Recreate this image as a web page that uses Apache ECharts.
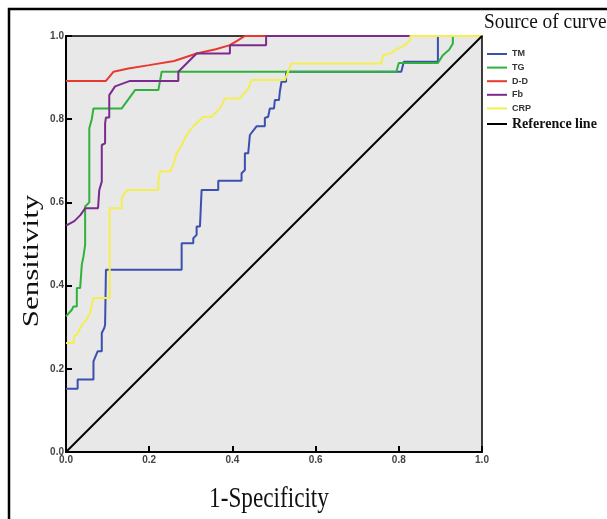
<!DOCTYPE html>
<html>
<head>
<meta charset="utf-8">
<script src="https://cdn.jsdelivr.net/npm/echarts@6/dist/echarts.min.js"></script>
<style>
  html, body { margin: 0; padding: 0; background: #fff; }
  #myChart { width: 607px; height: 519px; }
</style>
</head>
<body>
<div id="myChart"></div>
<script>
// ROC curves, points as [1-specificity, sensitivity]
const tmPoints = [[0,0.152],[0.028,0.152],[0.028,0.174],[0.066,0.174],[0.066,0.218],[0.076,0.242],[0.086,0.242],[0.086,0.286],[0.092,0.298],[0.094,0.306],[0.096,0.438],[0.278,0.438],[0.278,0.502],[0.306,0.502],[0.306,0.514],[0.314,0.522],[0.314,0.542],[0.322,0.542],[0.326,0.630],[0.366,0.630],[0.366,0.652],[0.422,0.652],[0.422,0.670],[0.430,0.678],[0.430,0.718],[0.438,0.718],[0.442,0.762],[0.458,0.783],[0.478,0.783],[0.478,0.803],[0.486,0.806],[0.490,0.826],[0.500,0.826],[0.502,0.846],[0.512,0.846],[0.514,0.866],[0.518,0.866],[0.518,0.890],[0.529,0.890],[0.529,0.914],[0.806,0.914],[0.812,0.938],[0.894,0.938],[0.894,1],[1,1]]
const tgPoints = [[0,0.326],[0.014,0.342],[0.018,0.350],[0.026,0.350],[0.026,0.394],[0.034,0.394],[0.038,0.450],[0.042,0.470],[0.046,0.498],[0.046,0.590],[0.056,0.600],[0.056,0.778],[0.062,0.800],[0.066,0.826],[0.134,0.826],[0.166,0.870],[0.222,0.870],[0.230,0.914],[0.794,0.914],[0.800,0.935],[0.894,0.935],[0.906,0.954],[0.921,0.967],[0.930,0.982],[0.930,1],[1,1]]
const ddPoints = [[0,0.892],[0.096,0.892],[0.114,0.914],[0.15,0.922],[0.2,0.930],[0.26,0.940],[0.314,0.958],[0.36,0.968],[0.394,0.978],[0.414,0.990],[0.430,1],[1,1]]
const fbPoints = [[0,0.544],[0.02,0.555],[0.035,0.570],[0.046,0.586],[0.077,0.586],[0.080,0.630],[0.086,0.650],[0.086,0.738],[0.094,0.742],[0.094,0.790],[0.096,0.804],[0.104,0.804],[0.104,0.858],[0.118,0.879],[0.154,0.892],[0.270,0.892],[0.270,0.914],[0.294,0.938],[0.314,0.958],[0.394,0.958],[0.394,0.978],[0.481,0.978],[0.481,1],[1,1]]
const crpPoints = [[0,0.262],[0.019,0.262],[0.019,0.278],[0.026,0.282],[0.034,0.298],[0.042,0.310],[0.049,0.318],[0.058,0.334],[0.062,0.354],[0.066,0.370],[0.105,0.370],[0.105,0.586],[0.134,0.586],[0.134,0.610],[0.146,0.630],[0.222,0.630],[0.222,0.654],[0.226,0.674],[0.250,0.674],[0.258,0.690],[0.266,0.718],[0.278,0.738],[0.290,0.762],[0.306,0.783],[0.330,0.806],[0.350,0.806],[0.370,0.826],[0.382,0.850],[0.418,0.850],[0.438,0.874],[0.446,0.894],[0.526,0.894],[0.534,0.915],[0.542,0.934],[0.758,0.934],[0.762,0.954],[0.780,0.958],[0.790,0.966],[0.810,0.975],[0.826,0.988],[0.828,1],[1,1]]
const refPoints = [[0,0],[1,1]]

const seriesNames = ['TM', 'TG', 'D-D', 'Fb', 'CRP', 'Reference line']
const seriesColors = ['#3b4fb0', '#2fb23b', '#e8392f', '#7b2b8d', '#f3ee52', '#000000']
const seriesData = [tmPoints, tgPoints, ddPoints, fbPoints, crpPoints, refPoints]

let myChart = echarts.init(document.getElementById('myChart'))

myChart.setOption({
    animation: false,
    backgroundColor: '#fff',
    grid: {
        left: 66,
        top: 36,
        width: 416,
        height: 416,
        show: true,
        backgroundColor: '#e8e8e8',
        borderColor: '#000',
        borderWidth: 1.5
    },
    legend: {
        orient: 'vertical',
        left: 487,
        top: 49,
        padding: 0,
        icon: 'rect',
        itemWidth: 20,
        itemHeight: 2,
        itemGap: 3.6,
        selectedMode: false,
        data: seriesNames.map(function (n, i) {
            if (i === 5) {
                return { name: n, textStyle: { fontFamily: 'Liberation Serif', fontWeight: 'bold', fontSize: 14, color: '#111', lineHeight: 10 } }
            }
            return { name: n, textStyle: { fontFamily: 'Liberation Sans', fontWeight: 'bold', fontSize: 9, color: '#333', lineHeight: 10 } }
        })
    },
    xAxis: {
        type: 'value',
        min: 0,
        max: 1,
        interval: 0.2,
        splitLine: { show: false },
        axisLine: { lineStyle: { color: '#000', width: 2 } },
        axisTick: { inside: true, length: 6, lineStyle: { color: '#000', width: 2 } },
        axisLabel: {
            margin: 3,
            fontFamily: 'Liberation Sans',
            fontWeight: 'bold',
            fontSize: 10,
            color: '#444',
            formatter: function (v) { return v.toFixed(1) }
        }
    },
    yAxis: {
        type: 'value',
        min: 0,
        max: 1,
        interval: 0.2,
        splitLine: { show: false },
        axisLine: { lineStyle: { color: '#000', width: 2 } },
        axisTick: { inside: true, length: 6, lineStyle: { color: '#000', width: 2 } },
        axisLabel: {
            margin: 2,
            fontFamily: 'Liberation Sans',
            fontWeight: 'bold',
            fontSize: 10,
            color: '#444',
            formatter: function (v) { return v.toFixed(1) }
        }
    },
    graphic: [
        {
            type: 'rect',
            shape: { x: 9, y: 9, width: 700, height: 600 },
            style: { fill: 'none', stroke: '#000', lineWidth: 2.5 },
            silent: true
        },
        {
            type: 'text',
            x: 484,
            y: 11,
            scaleX: 0.88,
            style: { text: 'Source of curve', font: '22px "Liberation Serif"', fill: '#111' }
        },
        {
            // original figure is squeezed sideways, so the titles are too
            type: 'text',
            x: 32,
            y: 261,
            rotation: Math.PI / 2,
            scaleY: 0.72,
            style: { text: 'Sensitivity', font: '31px "Liberation Serif"', fill: '#111', align: 'center', verticalAlign: 'middle' }
        },
        {
            type: 'text',
            x: 269,
            y: 499,
            scaleX: 0.8,
            style: { text: '1-Specificity', font: '29px "Liberation Serif"', fill: '#111', align: 'center', verticalAlign: 'middle' }
        }
    ],
    series: seriesNames.map(function (n, i) {
        return {
            name: n,
            type: 'line',
            data: seriesData[i],
            showSymbol: false,
            symbol: 'none',
            color: seriesColors[i],
            lineStyle: { width: 2, color: seriesColors[i] },
            silent: true
        }
    })
});
</script>
</body>
</html>
